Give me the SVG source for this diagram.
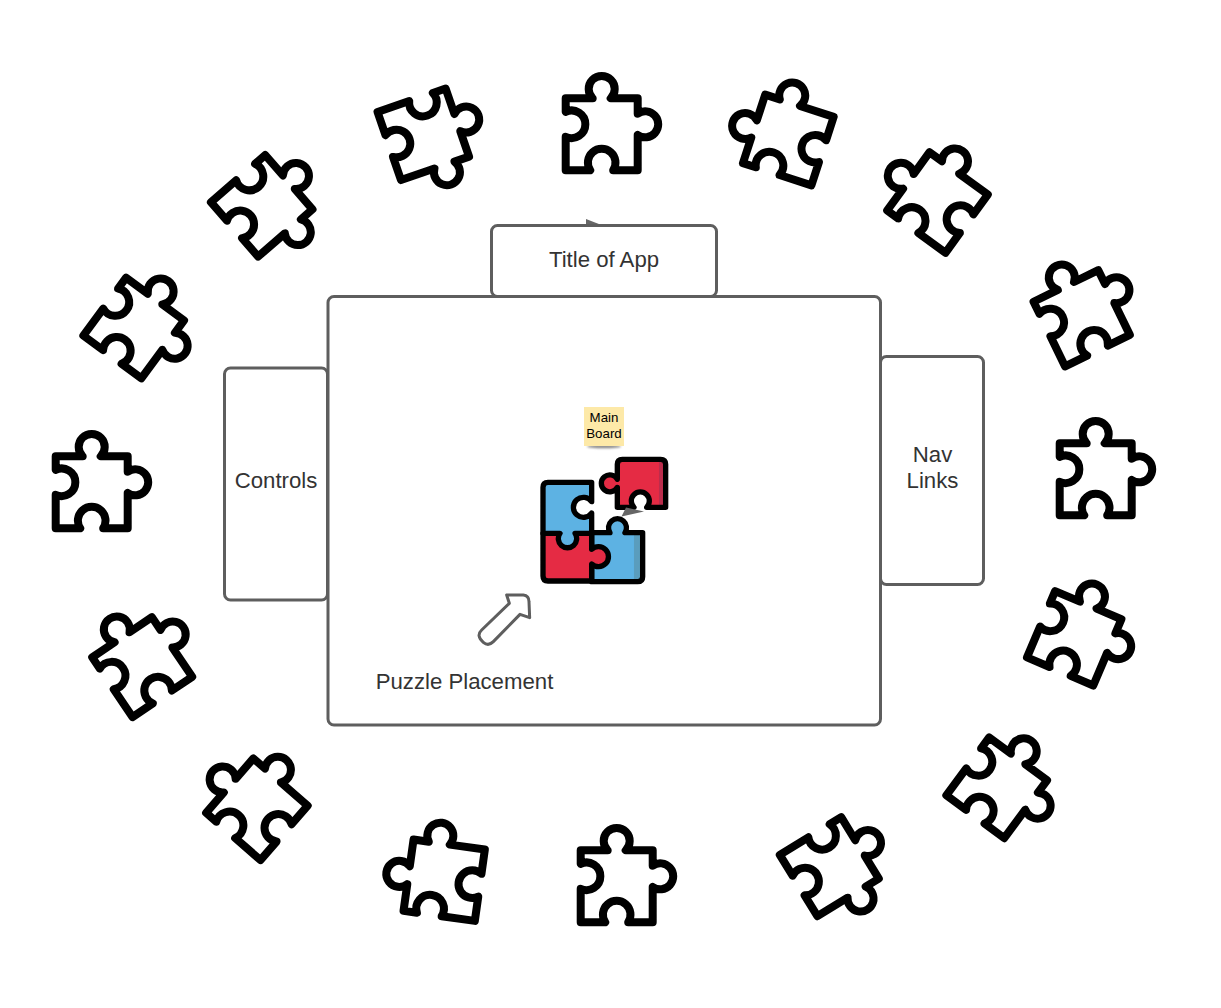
<svg xmlns="http://www.w3.org/2000/svg" width="1221" height="1008" viewBox="0 0 1221 1008">
<style>
.box{fill:#fff;stroke:#5e5e5e;stroke-width:3}
.lbl{font-family:"Liberation Sans",Arial,sans-serif;font-size:22.2px;fill:#333;text-anchor:middle}
.note{font-family:"Liberation Sans",Arial,sans-serif;font-size:13.3px;fill:#000;text-anchor:middle}
.pc{fill:none;stroke:#000;stroke-width:8;stroke-linejoin:round;stroke-linecap:round}
.k{stroke:#000;stroke-width:16;stroke-linejoin:round;stroke-linecap:round}
.head{fill:#666;stroke:none}
</style>
<defs>
<path id="piece" class="pc" d="M-36,-36 H-9 A13,13 0 1 1 9,-36 H36 V-20.600 A13,13 0 1 1 36,0.600 V36 H11.500 A13.800,13.800 0 1 0 -11.500,36 H-36 V2.500 A13.800,13.800 0 1 0 -36,-22.500 Z"/>
<filter id="blur" x="-20%" y="-200%" width="140%" height="500%"><feGaussianBlur stdDeviation="1.2"/></filter>
</defs>
<rect width="1221" height="1008" fill="#fff"/>
<g id="connectors">
<polygon class="head" points="586,219 586,226 604,226"/>
</g>
<g id="title-box"><rect class="box" x="491.500" y="225.500" width="225" height="71" rx="6"/><text class="lbl" x="604" y="267">Title of App</text></g>
<g id="controls-box"><rect class="box" x="224.500" y="368" width="103" height="232" rx="6"/><text class="lbl" x="276" y="488">Controls</text></g>
<g id="nav-box"><rect class="box" x="880.500" y="356.500" width="103" height="228" rx="6"/><text class="lbl" x="932.500" y="462">Nav</text><text class="lbl" x="932.500" y="488">Links</text></g>
<g id="main-board"><rect class="box" x="328" y="296.500" width="552.500" height="428.500" rx="6"/></g>
<g id="placement-label"><text class="lbl" x="464.500" y="689">Puzzle Placement</text></g>
<g id="placement-arrow"><path transform="translate(465,585) scale(.3333)" fill="#fff" stroke="#5e5e5e" stroke-width="9" stroke-linejoin="round" d="M125,30 H175 Q192,32 192,50 L194,98 L165,88 L85,170 Q70,185 55,172 Q32,152 50,135 L133,55 Z"/></g>
<g id="note"><ellipse cx="604" cy="446.500" rx="17" ry="1.800" fill="#888" filter="url(#blur)"/><rect x="584" y="407" width="40" height="39" fill="#fde9a8"/><text class="note" x="604" y="422">Main</text><text class="note" x="604" y="438">Board</text></g>
<g id="colour-puzzle" transform="translate(530,400) scale(.3333)">
<path fill="#5db2e3" d="M185,398 H240 A27,27 0 1 1 285,398 H338 V530 Q338,545 323,545 H185 Z"/>
<rect x="312" y="404" width="20" height="135" fill="#5a9dbd"/>
<path class="k" fill="none" d="M185,398 H240 A27,27 0 1 1 285,398 H338 V530 Q338,545 323,545 H185 Z"/>
<path class="k" fill="#e52b44" d="M39,400 H185 V448 A30,30 0 1 1 185,492 V543 H54 Q39,543 39,528 Z"/>
<path class="k" fill="#5db2e3" d="M54,247 H185 V305 A30,30 0 1 0 185,339 V400 H135 A27.500,27.500 0 1 1 90,400 H39 V262 Q39,247 54,247 Z"/>
<path fill="#e52b44" d="M277,178 H392 Q407,178 407,193 V322 H350 A27,27 0 1 0 312,322 H262 V262 A25.500,25.500 0 1 1 262,238 V193 Q262,178 277,178 Z"/>
<rect x="387" y="184" width="15" height="133" fill="#bb2d4c"/>
<path class="k" fill="none" d="M277,178 H392 Q407,178 407,193 V322 H350 A27,27 0 1 0 312,322 H262 V262 A25.500,25.500 0 1 1 262,238 V193 Q262,178 277,178 Z"/>
</g>
<g id="connector-head"><polygon class="head" points="644,511.500 626,507.500 621.500,516.500"/></g>
<g id="piece-01"><use href="#piece" transform="translate(133.700,328) rotate(36.400)"/></g>
<g id="piece-02"><use href="#piece" transform="translate(261.700,205.800) rotate(49)"/></g>
<g id="piece-03"><use href="#piece" transform="translate(423.300,134.300) rotate(71)"/></g>
<g id="piece-04"><use href="#piece" transform="translate(601.700,134.300)"/></g>
<g id="piece-05"><use href="#piece" transform="translate(788.300,140) rotate(-72)"/></g>
<g id="piece-06"><use href="#piece" transform="translate(937.500,202.500) rotate(-54)"/></g>
<g id="piece-07"><use href="#piece" transform="translate(1081.700,318.300) rotate(-26)"/></g>
<g id="piece-08"><use href="#piece" transform="translate(1095.700,479.300)"/></g>
<g id="piece-09"><use href="#piece" transform="translate(1074.200,638.300) rotate(23)"/></g>
<g id="piece-10"><use href="#piece" transform="translate(996.700,787.800) rotate(36.500)"/></g>
<g id="piece-11"><use href="#piece" transform="translate(829.300,866.700) rotate(58.500)"/></g>
<g id="piece-12"><use href="#piece" transform="translate(616.700,886.300)"/></g>
<g id="piece-13"><use href="#piece" transform="translate(444.200,880.200) rotate(-82)"/></g>
<g id="piece-14"><use href="#piece" transform="translate(256.900,809.250) rotate(-49)"/></g>
<g id="piece-15"><use href="#piece" transform="translate(142.200,667.100) rotate(-34)"/></g>
<g id="piece-16"><use href="#piece" transform="translate(91.700,492.300)"/></g>
</svg>
